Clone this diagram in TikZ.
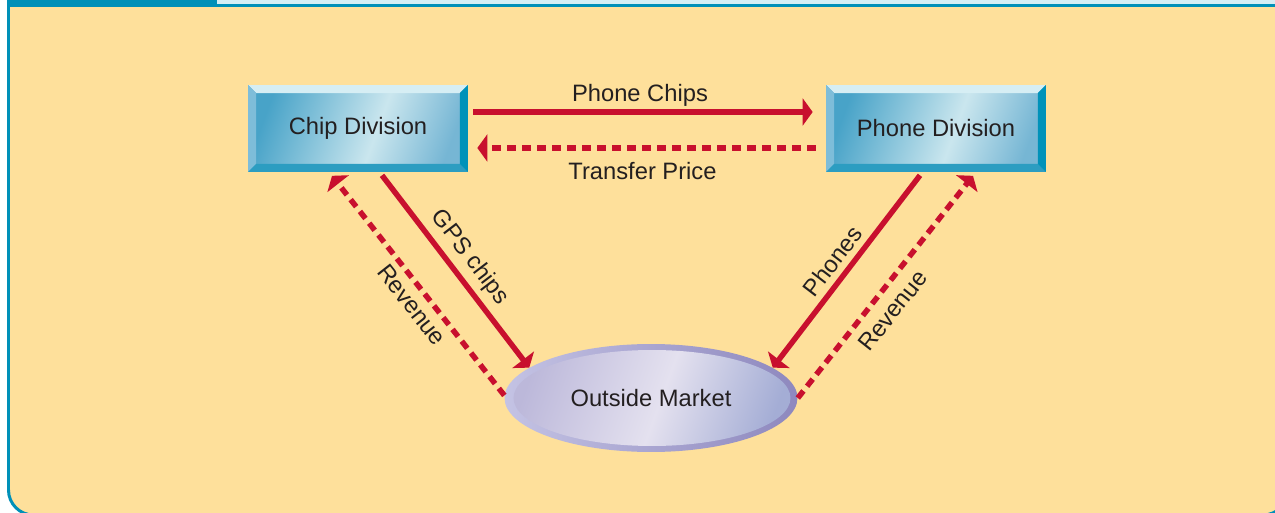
\documentclass[tikz,border=0pt]{standalone}
\usepackage{fontspec}
\setmainfont{Liberation Sans}
\usetikzlibrary{arrows.meta, shapes.geometric}

% colours
\definecolor{panelbg}{RGB}{254,224,155}
\definecolor{tabblue}{RGB}{0,144,184}
\definecolor{striplight}{RGB}{212,238,245}
\definecolor{flowred}{RGB}{200,16,46}
\definecolor{labelgray}{RGB}{35,31,32}
\definecolor{boxleft}{RGB}{72,163,200}
\definecolor{boxmid}{RGB}{202,230,238}
\definecolor{boxright}{RGB}{118,182,212}
\definecolor{bevtop}{RGB}{214,238,244}
\definecolor{bevleft}{RGB}{126,189,217}
\definecolor{bevbottom}{RGB}{44,157,193}
\definecolor{bevright}{RGB}{0,146,185}
\definecolor{mktleft}{RGB}{188,184,218}
\definecolor{mktmid}{RGB}{228,225,239}
\definecolor{mktright}{RGB}{164,173,213}
\definecolor{ringleft}{RGB}{196,195,228}
\definecolor{ringright}{RGB}{142,136,190}

\pgfdeclarehorizontalshading{divshade}{100bp}{color(0bp)=(boxleft); color(25bp)=(boxleft); color(55bp)=(boxmid); color(75bp)=(boxright); color(100bp)=(boxright)}
\pgfdeclarehorizontalshading{mktshade}{100bp}{color(0bp)=(mktleft); color(25bp)=(mktleft); color(52bp)=(mktmid); color(75bp)=(mktright); color(100bp)=(mktright)}
\pgfdeclarehorizontalshading{ringshade}{100bp}{color(0bp)=(ringleft); color(25bp)=(ringleft); color(75bp)=(ringright); color(100bp)=(ringright)}

\begin{document}
\begin{tikzpicture}[x=0.02cm, y=-0.02cm,
    tag/.style={font=\fontsize{13.5}{16}\selectfont, text=labelgray},
    division/.style={tag, rectangle, minimum width=4.4cm, minimum height=1.74cm, inner sep=0pt,
        shading=divshade, shading angle=-20,
        path picture={
            \fill[bevtop] (path picture bounding box.north west) -- (path picture bounding box.north east)
                -- ([xshift=-0.16cm,yshift=-0.16cm]path picture bounding box.north east)
                -- ([xshift=0.16cm,yshift=-0.16cm]path picture bounding box.north west) -- cycle;
            \fill[bevleft] (path picture bounding box.north west) -- (path picture bounding box.south west)
                -- ([xshift=0.16cm,yshift=0.16cm]path picture bounding box.south west)
                -- ([xshift=0.16cm,yshift=-0.16cm]path picture bounding box.north west) -- cycle;
            \fill[bevbottom] (path picture bounding box.south west) -- (path picture bounding box.south east)
                -- ([xshift=-0.16cm,yshift=0.16cm]path picture bounding box.south east)
                -- ([xshift=0.16cm,yshift=0.16cm]path picture bounding box.south west) -- cycle;
            \fill[bevright] (path picture bounding box.north east) -- (path picture bounding box.south east)
                -- ([xshift=-0.16cm,yshift=0.16cm]path picture bounding box.south east)
                -- ([xshift=-0.16cm,yshift=-0.16cm]path picture bounding box.north east) -- cycle;
        }},
    market/.style={tag, ellipse, minimum width=5.86cm, minimum height=2.16cm, inner sep=0pt,
        shading=ringshade,
        path picture={
            \shade[shading=mktshade, shading angle=-20] ([xshift=0.02cm]path picture bounding box.center)
                ellipse [x radius=2.77cm, y radius=0.96cm];
        }},
    flow/.style={draw=flowred, line width=0.11cm, -{Triangle[length=0.2cm, width=0.54cm]}},
    payment/.style={flow, dash pattern=on 0.18cm off 0.12cm}]

    \clip (0,0) rectangle (1275,513);

    % panel and header
    \path[fill=panelbg, draw=tabblue, line width=0.06cm]
        (8.5,-20) [rounded corners=0.5cm] -- (8.5,515) -- (1288,515) -- (1288,-20);
    \fill[striplight] (217,0) rectangle (1300,4.5);
    \fill[tabblue] (7,4.5) rectangle (1300,7.5);
    \fill[tabblue] (7,0) rectangle (217,7.5);

    % divisions and market
    \node[division] (chip) at (358,128.5) {Chip Division};
    \node[division] (phone) at (936,128.5) {Phone Division};
    \node[market] (market) at (651,398) {Outside Market};

    % between the divisions
    \draw[flow] ([xshift=0.1cm,yshift=0.33cm]chip.east)
        -- node[tag, above=-0.06cm, xshift=-0.06cm] {Phone Chips} ([xshift=-0.26cm,yshift=0.33cm]phone.west);
    \draw[payment] ([xshift=-0.2cm,yshift=-0.39cm]phone.west)
        -- node[tag, below=3pt, xshift=-0.08cm] {Transfer Price} ([xshift=0.18cm,yshift=-0.39cm]chip.east);

    % chip division and market
    \draw[flow] ([xshift=0.48cm,yshift=-0.06cm]chip.south)
        -- node[tag, pos=0.49, sloped, above] {GPS chips} (market.166);
    \draw[payment] (market.179)
        -- node[tag, pos=0.46, sloped, below] {Revenue} ([xshift=-0.52cm,yshift=-0.07cm]chip.south);

    % phone division and market
    \draw[flow] ([xshift=-0.32cm,yshift=-0.06cm]phone.south)
        -- node[tag, pos=0.5, sloped, above] {Phones} (market.14);
    \draw[payment] (market.east)
        -- node[tag, pos=0.45, sloped, below=2pt] {Revenue} ([xshift=0.74cm,yshift=-0.07cm]phone.south);

\end{tikzpicture}
\end{document}
